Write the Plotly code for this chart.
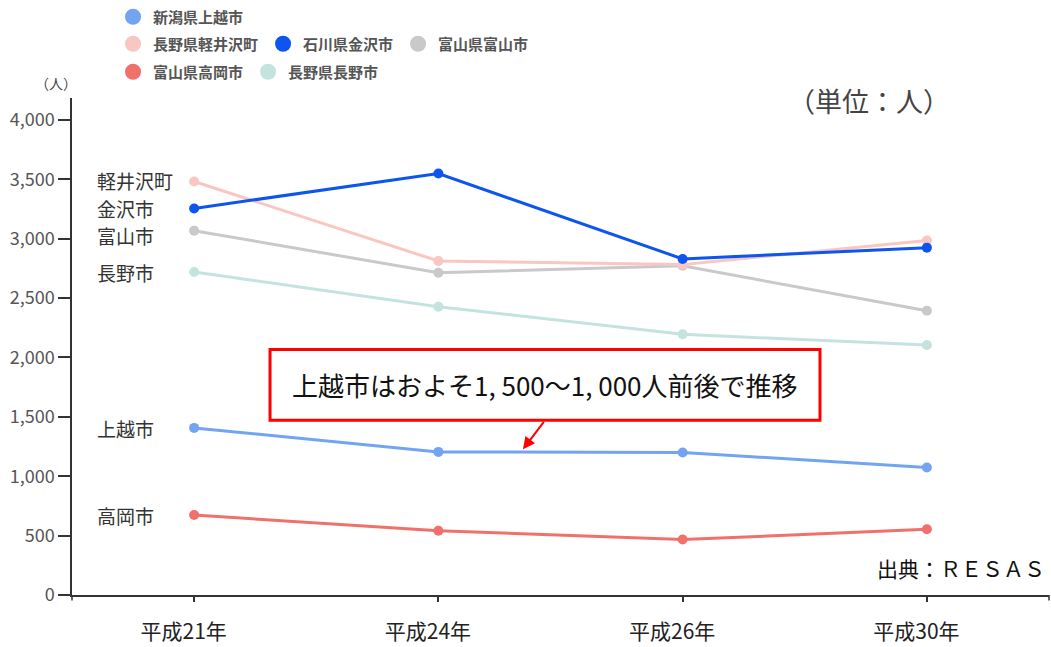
import plotly.graph_objects as go

years = ["平成21年", "平成24年", "平成26年", "平成30年"]
x_idx = [0, 1, 2, 3]

series_names = ["長野県長野市", "富山県富山市", "長野県軽井沢町", "富山県高岡市", "新潟県上越市", "石川県金沢市"]
short_names = ["長野市", "富山市", "軽井沢町", "高岡市", "上越市", "金沢市"]

nagano = [2720, 2428, 2195, 2105]
toyama = [3068, 2713, 2772, 2393]
karuizawa = [3482, 2812, 2782, 2985]
takaoka = [673, 541, 467, 553]
joetsu = [1407, 1205, 1200, 1074]
kanazawa = [3255, 3549, 2830, 2925]

values = [nagano, toyama, karuizawa, takaoka, joetsu, kanazawa]
colors = ["#c3e4de", "#c9c9cb", "#f9c6c1", "#f0716a", "#72a4f2", "#0d55ee"]
label_y = [2714, 3025, 3487, 672, 1403, 3255]

yticks = [0, 500, 1000, 1500, 2000, 2500, 3000, 3500, 4000]

FONT = "Noto Sans CJK JP"

fig = go.Figure()
for name, vals, col in zip(series_names, values, colors):
    fig.add_trace(go.Scatter(
        x=x_idx, y=vals, mode="lines+markers", name=name,
        line=dict(color=col, width=3), marker=dict(color=col, size=10),
        showlegend=False, hoverinfo="skip"))

# legend-only entries (circle markers), arranged in three rows
legend_rows = {
    "新潟県上越市": "legend",
    "長野県軽井沢町": "legend2", "石川県金沢市": "legend2", "富山県富山市": "legend2",
    "富山県高岡市": "legend3", "長野県長野市": "legend3",
}
legend_order = ["新潟県上越市", "長野県軽井沢町", "石川県金沢市", "富山県富山市", "富山県高岡市", "長野県長野市"]
for nm in legend_order:
    col = colors[series_names.index(nm)]
    fig.add_trace(go.Scatter(
        x=[None], y=[None], mode="markers", name=nm,
        marker=dict(color=col, size=16), legend=legend_rows[nm], showlegend=True))

# series labels on left
for sn, ly in zip(short_names, label_y):
    fig.add_annotation(x=0.0235, xref="paper", y=ly, yref="y", text=sn, showarrow=False,
                       xanchor="left", yanchor="middle", font=dict(family=FONT, size=19, color="#333333"))

legfont = dict(family=FONT, size=15, color="#555555", weight="bold")
leg_x = 0.042
fig.update_layout(
    width=1051, height=647,
    margin=dict(l=72, r=2, t=97, b=52),
    paper_bgcolor="white", plot_bgcolor="white",
    font=dict(family=FONT),
    legend=dict(x=leg_x, y=1.1606, xanchor="left", yanchor="middle", orientation="h",
                font=legfont, bgcolor="rgba(0,0,0,0)", itemclick=False),
    legend2=dict(x=leg_x, y=1.1064, xanchor="left", yanchor="middle", orientation="h",
                 font=legfont, bgcolor="rgba(0,0,0,0)", itemclick=False),
    legend3=dict(x=leg_x, y=1.0502, xanchor="left", yanchor="middle", orientation="h",
                 font=legfont, bgcolor="rgba(0,0,0,0)", itemclick=False),
    xaxis=dict(range=[-0.5, 3.5], tickmode="array", tickvals=x_idx,
               ticktext=[y + "\u3000" for y in years],
               showgrid=False, zeroline=False, showline=True, linecolor="#333333", linewidth=1.5,
               ticks="outside", ticklen=5, tickcolor="#333333", tickwidth=1.5,
               tickfont=dict(family=FONT, size=21, color="#222222"), ticklabelstandoff=12),
    yaxis=dict(range=[0, 4185], tickmode="array", tickvals=yticks,
               showgrid=False, zeroline=False, showline=True, linecolor="#333333", linewidth=1.5,
               ticks="outside", ticklen=12, tickcolor="#333333", tickwidth=1.5,
               tickformat=",d",
               tickfont=dict(family=FONT, size=18, color="#555555")),
)

# outer end ticks
fig.add_shape(type="line", xref="paper", yref="paper", x0=1, x1=1, y0=0, y1=-0.011,
              line=dict(color="#333333", width=1.5))
fig.add_shape(type="line", xref="paper", yref="paper", x0=0, x1=0, y0=0, y1=-0.011,
              line=dict(color="#333333", width=1.5))

# red callout box
fig.add_shape(type="rect", xref="paper", yref="paper", x0=0.2027, x1=0.7656, y0=0.3514, y1=0.494,
              line=dict(color="#ff0000", width=3), fillcolor="white", layer="above")
fig.add_annotation(x=0.484, xref="paper", y=0.4237, yref="paper",
                   text="上越市はおよそ1, 500～1, 000人前後で推移", showarrow=False,
                   xanchor="center", yanchor="middle",
                   font=dict(family=FONT, size=26, color="#111111"))
fig.add_annotation(x=0.4616, xref="paper", y=0.2932, yref="paper", text="",
                   showarrow=True, arrowhead=2, arrowsize=1.2, arrowwidth=2, arrowcolor="#ff0000",
                   ax=22, ay=-29)

fig.add_annotation(x=0.8157, xref="paper", y=0.994, yref="paper", text="（単位：人）", showarrow=False,
                   xanchor="center", yanchor="middle",
                   font=dict(family=FONT, size=27, color="#444444"))
fig.add_annotation(x=0.998, xref="paper", y=0.0542, yref="paper", text="出典：ＲＥＳＡＳ", showarrow=False,
                   xanchor="right", yanchor="middle", font=dict(family=FONT, size=21, color="#111111"))
fig.add_annotation(x=-0.0164, xref="paper", y=1.030, yref="paper", text="（人）", showarrow=False,
                   xanchor="center", yanchor="middle",
                   font=dict(family=FONT, size=14, color="#444444"))

fig.write_html("out.html", config={"displayModeBar": False},
               post_script="document.body.style.margin='0';")
